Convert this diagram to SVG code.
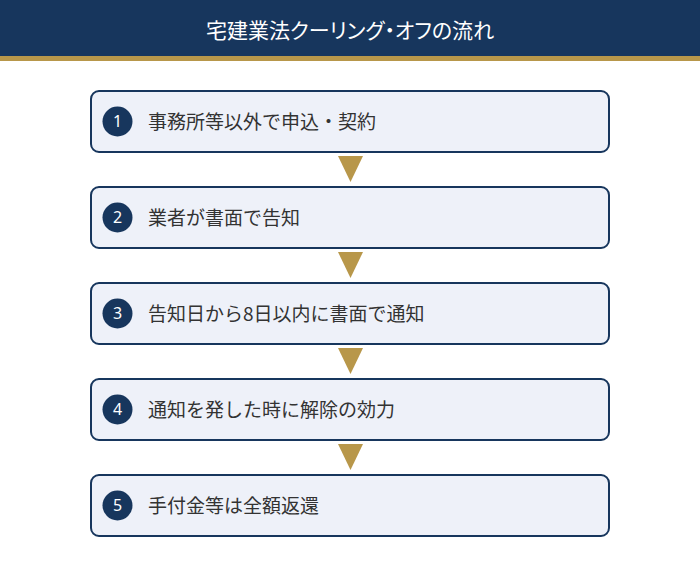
<svg xmlns="http://www.w3.org/2000/svg" width="700" height="566" viewBox="0 0 700 566">
<style>
.box{fill:#eef1f9;stroke:#17365d;stroke-width:2}
.num{fill:#17365d}
.numt{fill:#ffffff;font-family:"Noto Sans","Liberation Sans",sans-serif;font-size:16px;text-anchor:middle}
.lbl{fill:#333333;font-family:"Noto Sans CJK JP","Noto Sans",sans-serif;font-size:19px}
.title{fill:#ffffff;font-family:"Noto Sans CJK JP","Noto Sans",sans-serif;font-size:21px;text-anchor:middle;font-feature-settings:"palt"}
.arr{fill:#b8974a}
</style>
<rect x="0" y="0" width="700" height="56" fill="#17365d"/>
<rect x="0" y="56" width="700" height="5" fill="#b8974a"/>
<text class="title" x="350" y="38">宅建業法クーリング・オフの流れ</text>
<g id="connectors">
<polygon class="arr" points="338,156 363,156 350.5,182"/>
<polygon class="arr" points="338,252 363,252 350.5,278"/>
<polygon class="arr" points="338,348 363,348 350.5,374"/>
<polygon class="arr" points="338,444 363,444 350.5,470"/>
</g>
<g id="step1">
<rect class="box" x="91" y="91" width="518" height="61" rx="8"/>
<circle class="num" cx="117.5" cy="121.5" r="15"/>
<text class="numt" x="117.5" y="127">1</text>
<text class="lbl" x="148" y="129">事務所等以外で申込・契約</text>
</g>
<g id="step2">
<rect class="box" x="91" y="187" width="518" height="61" rx="8"/>
<circle class="num" cx="117.5" cy="217.5" r="15"/>
<text class="numt" x="117.5" y="223">2</text>
<text class="lbl" x="148" y="225">業者が書面で告知</text>
</g>
<g id="step3">
<rect class="box" x="91" y="283" width="518" height="61" rx="8"/>
<circle class="num" cx="117.5" cy="313.5" r="15"/>
<text class="numt" x="117.5" y="319">3</text>
<text class="lbl" x="148" y="321">告知日から8日以内に書面で通知</text>
</g>
<g id="step4">
<rect class="box" x="91" y="379" width="518" height="61" rx="8"/>
<circle class="num" cx="117.5" cy="409.5" r="15"/>
<text class="numt" x="117.5" y="415">4</text>
<text class="lbl" x="148" y="417">通知を発した時に解除の効力</text>
</g>
<g id="step5">
<rect class="box" x="91" y="475" width="518" height="61" rx="8"/>
<circle class="num" cx="117.5" cy="505.5" r="15"/>
<text class="numt" x="117.5" y="511">5</text>
<text class="lbl" x="148" y="513">手付金等は全額返還</text>
</g>
</svg>
